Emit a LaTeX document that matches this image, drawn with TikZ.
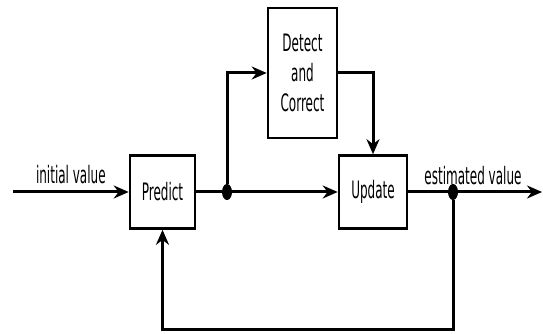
\documentclass[tikz,border=0pt]{standalone}
\usepackage{fontspec}
\setmainfont{DejaVu Sans}[FakeStretch=0.5]
\usetikzlibrary{positioning,arrows.meta,calc,shapes.geometric}
\tikzset{
    >={Stealth[length=15pt,width=13pt]},
    filterblock/.style={
        rectangle,
        draw=black,
        line width=2.6pt,
        fill=white,
        align=center,
        inner sep=0pt
    },
    line/.style={draw, line width=3pt, ->},
    joint/.style={ellipse, fill=black, minimum width=10pt, minimum height=16pt, inner sep=0pt},
    font={\fontsize{24pt}{30pt}\selectfont},
}
\begin{document}
\begin{tikzpicture}[x=1pt,y=1pt]
\useasboundingbox (0,0) rectangle (543,334);

% boxes
\node[filterblock, minimum width=65pt, minimum height=73pt] (predict) at (162.5,142) {Predict};
\node[filterblock, minimum width=69pt, minimum height=130pt] (detect) at (302.5,261) {Detect\\and\\Correct};
\node[filterblock, minimum width=68pt, minimum height=73pt] (update) at (373,142) {Update};

% junctions and free ends
\node[joint] (split) at (227,142) {};
\node[joint] (tap) at (453,142) {};
\coordinate (start) at (13,142);
\coordinate (finish) at (542,142);
\coordinate (loop) at (453,4);

% connectors
\draw[line] (start) -- (predict.west) node[midway,above=3pt] {initial value};
\draw[line width=3pt] (predict.east) -- (split);
\draw[line] (split) -- (update.west);
\draw[line] (split) |- (detect.west);
\draw[line] (detect.east) -| (update.north);
\draw[line width=3pt] (update.east) -- (tap);
\draw[line] (tap) -- (finish);
\node[above=4pt] at ($(tap)+(20,0)$) {estimated value};
\draw[line] (tap) -- (loop) -| (predict.south);
\end{tikzpicture}
\end{document}
